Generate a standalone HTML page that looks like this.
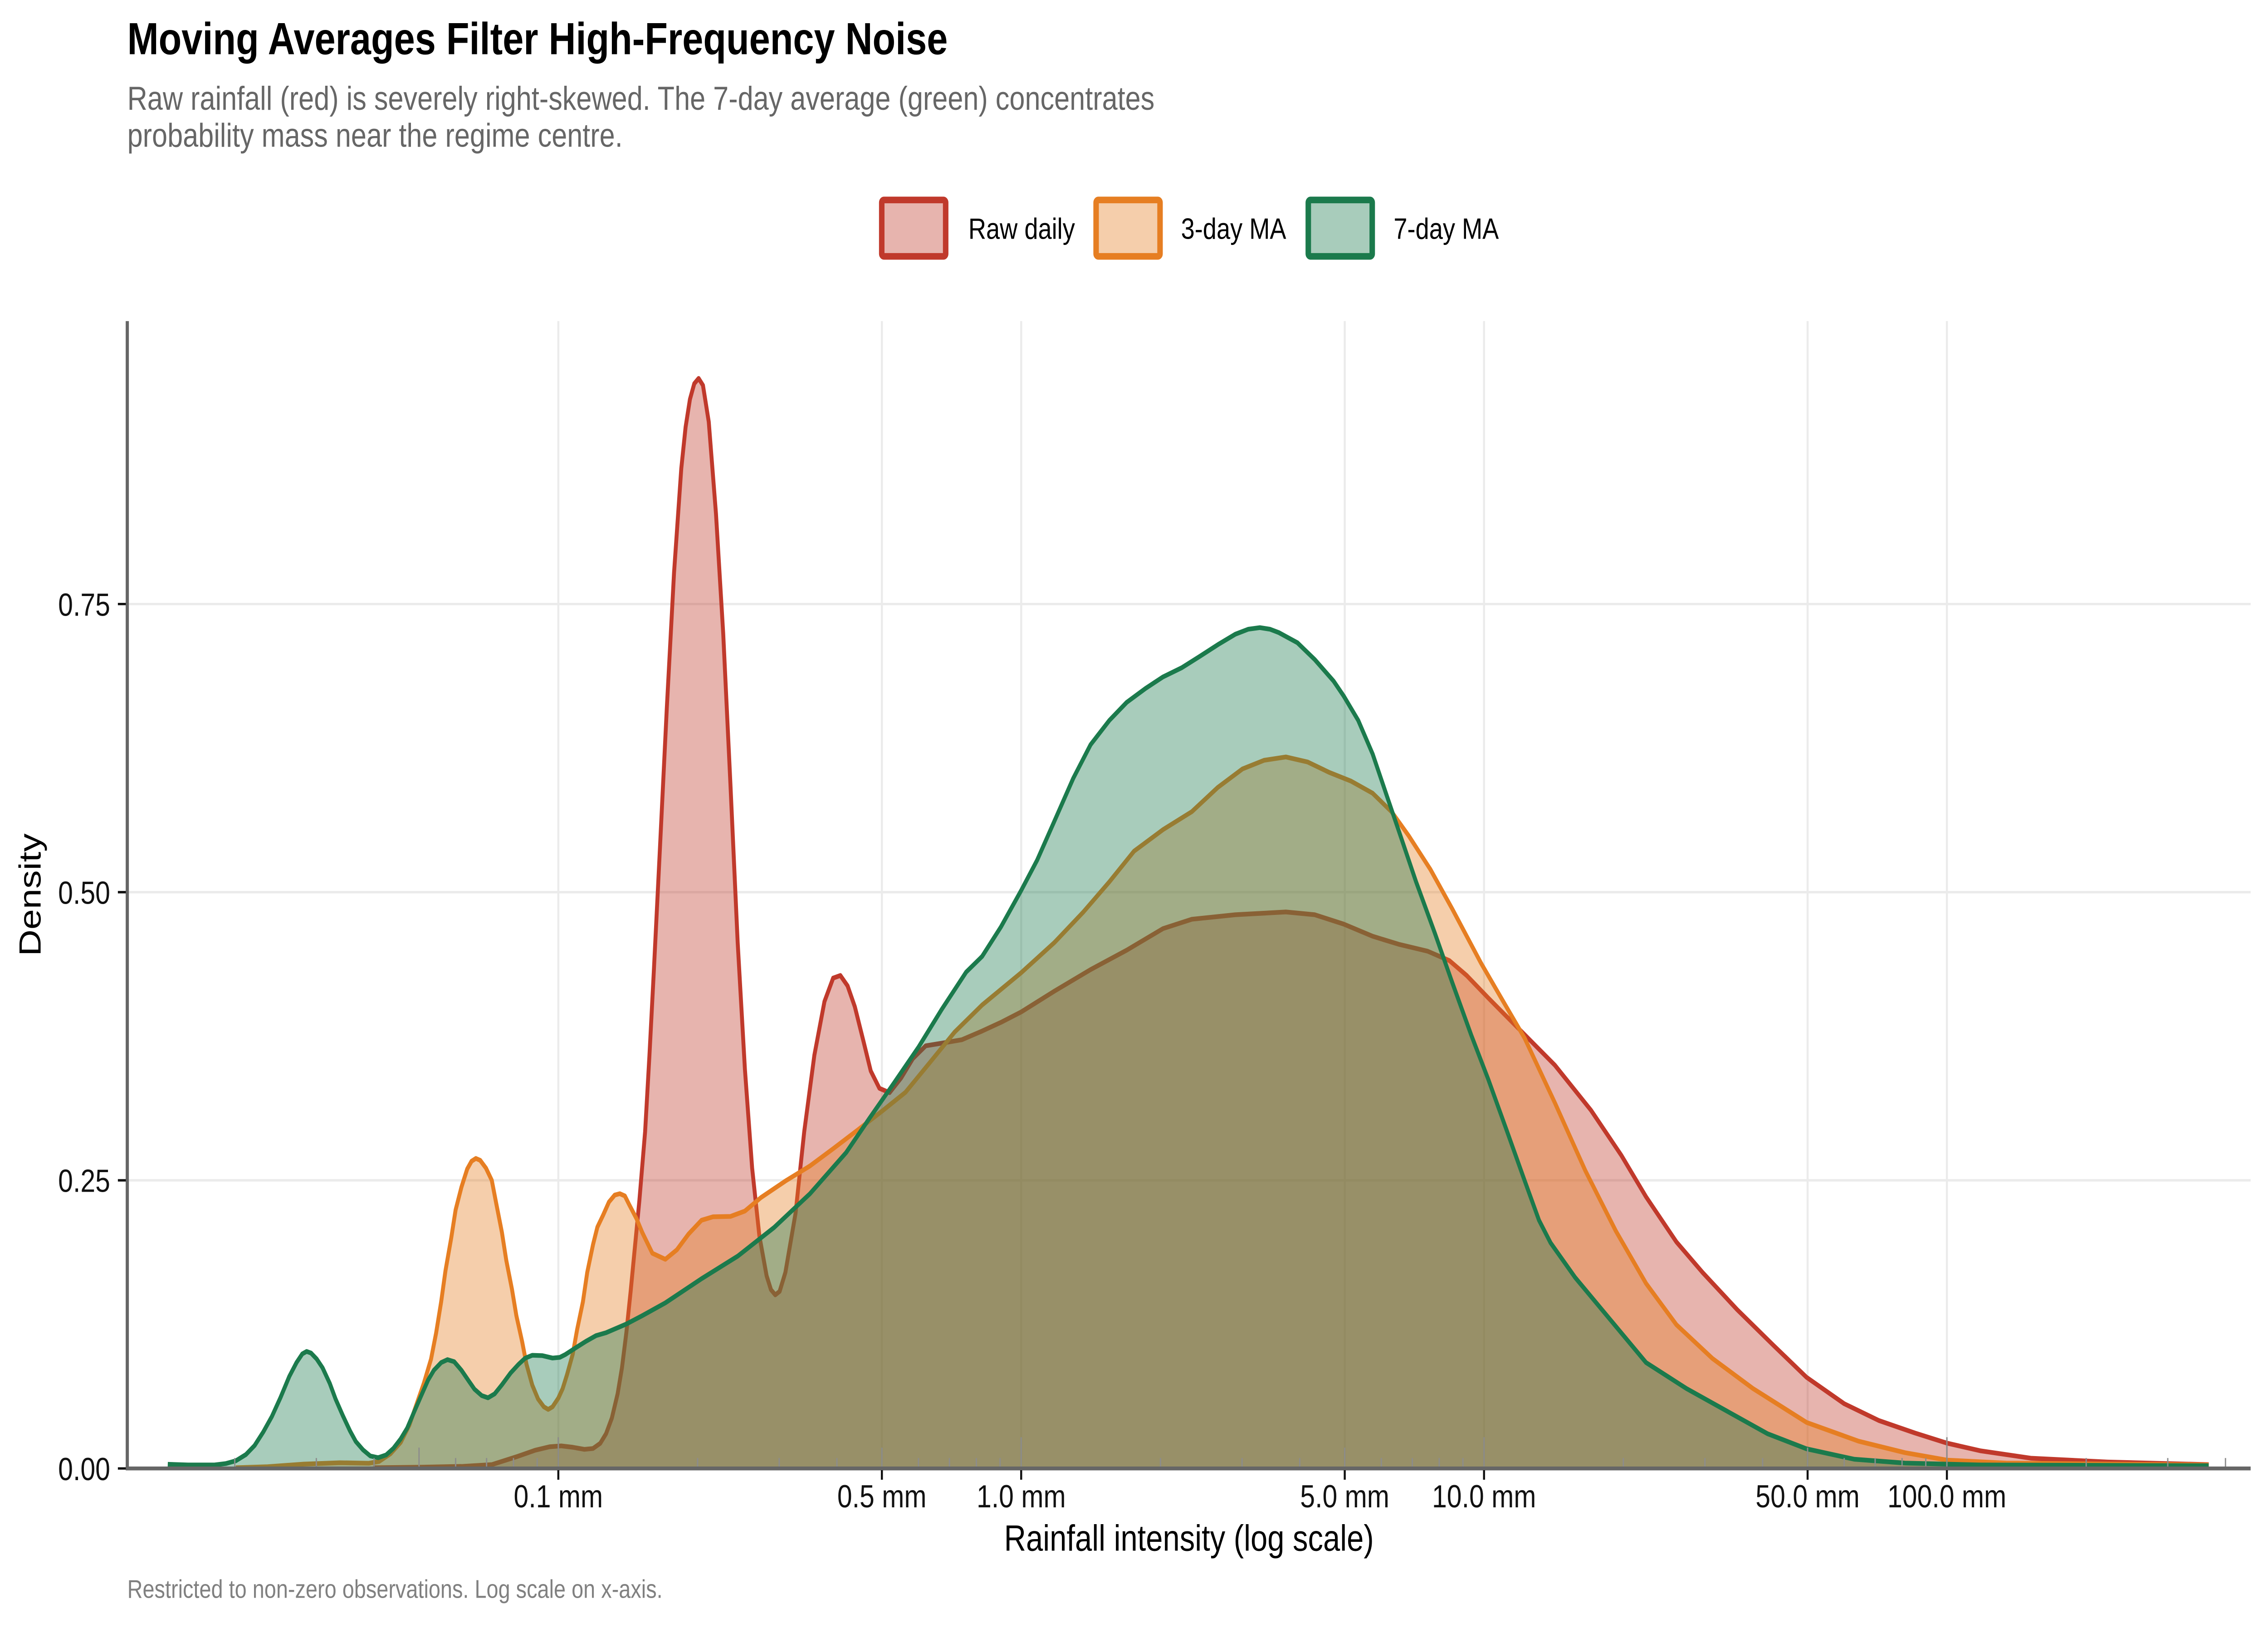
<!DOCTYPE html>
<html>
<head>
<meta charset="utf-8">
<style>
html,body{margin:0;padding:0;background:#ffffff;overflow:hidden;width:100%;height:100%;}
svg{display:block;width:100vw;height:100vh;}
</style>
</head>
<body>
<svg xmlns="http://www.w3.org/2000/svg" viewBox="0 0 1568 940.8" preserveAspectRatio="none" font-family="'Liberation Sans', Arial, sans-serif">
<rect x="0" y="0" width="1568" height="940.8" fill="#ffffff"/>

<!-- Title / subtitle -->
<text x="88" y="31.2" font-size="26" font-weight="bold" fill="#000000">Moving Averages Filter High-Frequency Noise</text>
<text x="88" y="63.2" font-size="19.2" fill="#666666">Raw rainfall (red) is severely right-skewed. The 7-day average (green) concentrates</text>
<text x="88" y="84.5" font-size="19.2" fill="#666666">probability mass near the regime centre.</text>

<!-- Legend -->
<rect x="609.6" y="115.2" width="44.2" height="32.5" rx="1.5" fill="#C0392B" fill-opacity="0.38" stroke="#C0392B" stroke-width="3.8"/>
<text x="669.5" y="137.6" font-size="17" fill="#000000">Raw daily</text>
<rect x="757.8" y="115.2" width="44.2" height="32.5" rx="1.5" fill="#E67E22" fill-opacity="0.38" stroke="#E67E22" stroke-width="3.8"/>
<text x="816.5" y="137.6" font-size="17" fill="#000000">3-day MA</text>
<rect x="904.5" y="115.2" width="44.2" height="32.5" rx="1.5" fill="#1B7A4C" fill-opacity="0.38" stroke="#1B7A4C" stroke-width="3.8"/>
<text x="963.5" y="137.6" font-size="17" fill="#000000">7-day MA</text>

<!-- Gridlines -->
<g stroke="#EBEBEB" stroke-width="1.4" fill="none">
<line x1="88" y1="680" x2="1556" y2="680"/>
<line x1="88" y1="514" x2="1556" y2="514"/>
<line x1="88" y1="348" x2="1556" y2="348"/>
<line x1="386" y1="185" x2="386" y2="846"/>
<line x1="609.7" y1="185" x2="609.7" y2="846"/>
<line x1="706" y1="185" x2="706" y2="846"/>
<line x1="929.7" y1="185" x2="929.7" y2="846"/>
<line x1="1026" y1="185" x2="1026" y2="846"/>
<line x1="1249.7" y1="185" x2="1249.7" y2="846"/>
<line x1="1346" y1="185" x2="1346" y2="846"/>
</g>

<!-- Raw daily (red) -->
<polygon fill="#C0392B" fill-opacity="0.38" stroke="none" points="258,846 258,845.6 290,845.3 320,844.8 340,843.8 358,839 370,835.5 380,833.5 388,833 396,833.8 404,835 410,834.5 415,831.5 419,826 423,817 427,803 430,788 433,768 436,744 439,718 442,692 446,652 449,608 452,560 456,493 461,408 466,330 471,270 474,246 477,230 480,221 483,218 486,222 490,243 495,296 500,365 505,452 510,543 515,616 520,673 525,712 530,735 533,743 536,746 539,744 543,733 550,699 556,652 563,608 570,577 576,563.5 581,562 586,568 591,580 597,600 602,617 608,627 615,629.5 623,621 631,610 640,602.5 651,601 665,599 679,594 692,589 706,583 729,571 754,558.6 779,547.4 804,535 824,529.6 854,527 889,525.4 909,527 929,532.4 949,539.4 967,544 987,548 1002,553.4 1014,562 1029,575 1048,591 1075,613.7 1100,639.7 1121,665.7 1138,689.5 1159,715.5 1177,733 1201,754.5 1226,775 1249,793.5 1275,808.7 1299,818.4 1324,825.6 1346,831.4 1369,835.8 1404,840.1 1457,842.3 1527,843.8 1527,846"/>
<polyline fill="none" stroke="#C0392B" stroke-width="2.7" stroke-linejoin="round" stroke-linecap="butt" points="258,845.6 290,845.3 320,844.8 340,843.8 358,839 370,835.5 380,833.5 388,833 396,833.8 404,835 410,834.5 415,831.5 419,826 423,817 427,803 430,788 433,768 436,744 439,718 442,692 446,652 449,608 452,560 456,493 461,408 466,330 471,270 474,246 477,230 480,221 483,218 486,222 490,243 495,296 500,365 505,452 510,543 515,616 520,673 525,712 530,735 533,743 536,746 539,744 543,733 550,699 556,652 563,608 570,577 576,563.5 581,562 586,568 591,580 597,600 602,617 608,627 615,629.5 623,621 631,610 640,602.5 651,601 665,599 679,594 692,589 706,583 729,571 754,558.6 779,547.4 804,535 824,529.6 854,527 889,525.4 909,527 929,532.4 949,539.4 967,544 987,548 1002,553.4 1014,562 1029,575 1048,591 1075,613.7 1100,639.7 1121,665.7 1138,689.5 1159,715.5 1177,733 1201,754.5 1226,775 1249,793.5 1275,808.7 1299,818.4 1324,825.6 1346,831.4 1369,835.8 1404,840.1 1457,842.3 1527,843.8"/>

<!-- 3-day MA (orange) -->
<polygon fill="#E67E22" fill-opacity="0.38" stroke="none" points="163,846 163,845.6 185,845 210,843.5 235,842.7 255,843 262,842 270,837.5 277,831 283,821 288,809 293,797 298,783 301.5,768 305,750 308,732 312,713 315,697 319,684 323,673.5 326,669 329,667.4 332,668.5 336,673 340,680 343,693 347,710 350,726 354,743 357,758 361,773 364,786 368,798 372,806 376,810.5 379,812 382,810.5 386,805.5 389,800 392,792 396,780 399,766 403,750 406,733 410,717 413,707 417,700 421,692.5 425,688.5 428.5,687.7 432,689 435,694 440,702 444,710 451,722 460,725.5 468,720 476,711 485,703 493,701 505,700.8 515,697.7 526,690 543,680.4 560,671.7 576,661.8 593,651 610,640 626,629.3 643,612 660,594.6 679,579 706,560.4 729,543 749,525.4 767,508 784,490.4 804,478 824,467.6 842,453.6 859,443 874,438 889,436.1 904,439 919,445 934,450 949,457 962,467.6 974,481.6 989,501 1004,523.6 1024,555 1040,578 1054,598 1075,635.4 1096,674.4 1117,709 1138,739.4 1159,763.2 1184,782.7 1212,800 1249,819.5 1285,830.3 1317,836.9 1346,841.2 1387,842.9 1527,844 1527,846"/>
<polyline fill="none" stroke="#E67E22" stroke-width="2.7" stroke-linejoin="round" stroke-linecap="butt" points="163,845.6 185,845 210,843.5 235,842.7 255,843 262,842 270,837.5 277,831 283,821 288,809 293,797 298,783 301.5,768 305,750 308,732 312,713 315,697 319,684 323,673.5 326,669 329,667.4 332,668.5 336,673 340,680 343,693 347,710 350,726 354,743 357,758 361,773 364,786 368,798 372,806 376,810.5 379,812 382,810.5 386,805.5 389,800 392,792 396,780 399,766 403,750 406,733 410,717 413,707 417,700 421,692.5 425,688.5 428.5,687.7 432,689 435,694 440,702 444,710 451,722 460,725.5 468,720 476,711 485,703 493,701 505,700.8 515,697.7 526,690 543,680.4 560,671.7 576,661.8 593,651 610,640 626,629.3 643,612 660,594.6 679,579 706,560.4 729,543 749,525.4 767,508 784,490.4 804,478 824,467.6 842,453.6 859,443 874,438 889,436.1 904,439 919,445 934,450 949,457 962,467.6 974,481.6 989,501 1004,523.6 1024,555 1040,578 1054,598 1075,635.4 1096,674.4 1117,709 1138,739.4 1159,763.2 1184,782.7 1212,800 1249,819.5 1285,830.3 1317,836.9 1346,841.2 1387,842.9 1527,844"/>

<!-- 7-day MA (green) -->
<polygon fill="#1B7A4C" fill-opacity="0.38" stroke="none" points="116,846 116,843.6 130,844 148,844 156,843.2 163,841.6 170,838 176,832.8 182,825 188,816 194,805 200,793 205,785 209,780 212,778.6 215,779.5 219,783 223,788 228,797 232,806 237,815.5 242,824.4 246,830.5 251,835.3 256,838.8 261.5,839.8 267,838.2 272,834.4 277,829 281.5,822.8 286,814 291,804.4 296,795 300,789.4 305,785 309.4,783.3 314,784.5 319,789.4 324,795.5 328,800.3 333,804 337.4,805.3 342,803 347,797.8 353,791 358.4,786.1 363,782.5 368,780.8 375,781 382,782.4 387,782 391,780.3 398,776.5 405,772.8 412,769.5 419,767.8 433,762.8 444,758 460,750.6 485,736.7 510,723.7 535,707.3 560,687.7 585,664 601,644.4 618,624 635,603.3 651,581.6 668,560 679,551 692,534 706,513 717,495.6 729,473 742,448.4 754,429 767,415 779,404.6 792,396.6 804,390 817,384.7 829,378.4 842,371.4 854,365.4 863,362.5 871,361.6 878,362.5 884,364.4 897,370.3 909,380 922,392.4 929,401 939,415 949,434.4 959,459 969,483.4 979,508 992,537.6 1004,566 1017,596 1029,622 1042,652 1054,680 1064,703 1072,716 1089,736 1114,761 1138,785 1166,800 1194,813 1222,826 1249,834.7 1282,840.7 1317,842.9 1369,844 1527,844.4 1527,846"/>
<polyline fill="none" stroke="#1B7A4C" stroke-width="2.7" stroke-linejoin="round" stroke-linecap="butt" points="116,843.6 130,844 148,844 156,843.2 163,841.6 170,838 176,832.8 182,825 188,816 194,805 200,793 205,785 209,780 212,778.6 215,779.5 219,783 223,788 228,797 232,806 237,815.5 242,824.4 246,830.5 251,835.3 256,838.8 261.5,839.8 267,838.2 272,834.4 277,829 281.5,822.8 286,814 291,804.4 296,795 300,789.4 305,785 309.4,783.3 314,784.5 319,789.4 324,795.5 328,800.3 333,804 337.4,805.3 342,803 347,797.8 353,791 358.4,786.1 363,782.5 368,780.8 375,781 382,782.4 387,782 391,780.3 398,776.5 405,772.8 412,769.5 419,767.8 433,762.8 444,758 460,750.6 485,736.7 510,723.7 535,707.3 560,687.7 585,664 601,644.4 618,624 635,603.3 651,581.6 668,560 679,551 692,534 706,513 717,495.6 729,473 742,448.4 754,429 767,415 779,404.6 792,396.6 804,390 817,384.7 829,378.4 842,371.4 854,365.4 863,362.5 871,361.6 878,362.5 884,364.4 897,370.3 909,380 922,392.4 929,401 939,415 949,434.4 959,459 969,483.4 979,508 992,537.6 1004,566 1017,596 1029,622 1042,652 1054,680 1064,703 1072,716 1089,736 1114,761 1138,785 1166,800 1194,813 1222,826 1249,834.7 1282,840.7 1317,842.9 1369,844 1527,844.4"/>

<!-- Log ticks -->
<g stroke="#8c8c8c" stroke-width="0.9">
<line x1="162.3" y1="846" x2="162.3" y2="840"/>
<line x1="218.7" y1="846" x2="218.7" y2="840"/>
<line x1="258.6" y1="846" x2="258.6" y2="840"/>
<line x1="289.7" y1="846" x2="289.7" y2="834"/>
<line x1="315.0" y1="846" x2="315.0" y2="840"/>
<line x1="336.4" y1="846" x2="336.4" y2="840"/>
<line x1="355.0" y1="846" x2="355.0" y2="840"/>
<line x1="371.4" y1="846" x2="371.4" y2="840"/>
<line x1="386" y1="846" x2="386" y2="828"/>
<line x1="482.3" y1="846" x2="482.3" y2="840"/>
<line x1="538.7" y1="846" x2="538.7" y2="840"/>
<line x1="578.6" y1="846" x2="578.6" y2="840"/>
<line x1="609.7" y1="846" x2="609.7" y2="834"/>
<line x1="635.0" y1="846" x2="635.0" y2="840"/>
<line x1="656.4" y1="846" x2="656.4" y2="840"/>
<line x1="675.0" y1="846" x2="675.0" y2="840"/>
<line x1="691.4" y1="846" x2="691.4" y2="840"/>
<line x1="706" y1="846" x2="706" y2="828"/>
<line x1="802.3" y1="846" x2="802.3" y2="840"/>
<line x1="858.7" y1="846" x2="858.7" y2="840"/>
<line x1="898.6" y1="846" x2="898.6" y2="840"/>
<line x1="929.7" y1="846" x2="929.7" y2="834"/>
<line x1="955.0" y1="846" x2="955.0" y2="840"/>
<line x1="976.4" y1="846" x2="976.4" y2="840"/>
<line x1="995.0" y1="846" x2="995.0" y2="840"/>
<line x1="1011.4" y1="846" x2="1011.4" y2="840"/>
<line x1="1026" y1="846" x2="1026" y2="828"/>
<line x1="1122.3" y1="846" x2="1122.3" y2="840"/>
<line x1="1178.7" y1="846" x2="1178.7" y2="840"/>
<line x1="1218.6" y1="846" x2="1218.6" y2="840"/>
<line x1="1249.7" y1="846" x2="1249.7" y2="834"/>
<line x1="1275.0" y1="846" x2="1275.0" y2="840"/>
<line x1="1296.4" y1="846" x2="1296.4" y2="840"/>
<line x1="1315.0" y1="846" x2="1315.0" y2="840"/>
<line x1="1331.4" y1="846" x2="1331.4" y2="840"/>
<line x1="1346" y1="846" x2="1346" y2="828"/>
<line x1="1442.3" y1="846" x2="1442.3" y2="840"/>
<line x1="1498.7" y1="846" x2="1498.7" y2="840"/>
<line x1="1538.6" y1="846" x2="1538.6" y2="840"/>
</g>

<!-- Axis lines -->
<line x1="88" y1="185" x2="88" y2="847" stroke="#666666" stroke-width="2.2"/>
<line x1="87" y1="846" x2="1556" y2="846" stroke="#666666" stroke-width="2.2"/>

<!-- Major ticks -->
<g stroke="#111111" stroke-width="1.4">
<line x1="81.5" y1="846" x2="87" y2="846"/>
<line x1="81.5" y1="680" x2="87" y2="680"/>
<line x1="81.5" y1="514" x2="87" y2="514"/>
<line x1="81.5" y1="348" x2="87" y2="348"/>
<line x1="386" y1="847" x2="386" y2="852.5"/>
<line x1="609.7" y1="847" x2="609.7" y2="852.5"/>
<line x1="706" y1="847" x2="706" y2="852.5"/>
<line x1="929.7" y1="847" x2="929.7" y2="852.5"/>
<line x1="1026" y1="847" x2="1026" y2="852.5"/>
<line x1="1249.7" y1="847" x2="1249.7" y2="852.5"/>
<line x1="1346" y1="847" x2="1346" y2="852.5"/>
</g>

<!-- Y tick labels -->
<g font-size="18.5" fill="#111111" text-anchor="end">
<text x="76.2" y="852.7">0.00</text>
<text x="76.2" y="686.7">0.25</text>
<text x="76.2" y="520.7">0.50</text>
<text x="76.2" y="354.7">0.75</text>
</g>

<!-- X tick labels -->
<g font-size="18.5" fill="#111111" text-anchor="middle">
<text x="386" y="868.4">0.1 mm</text>
<text x="609.7" y="868.4">0.5 mm</text>
<text x="706" y="868.4">1.0 mm</text>
<text x="929.7" y="868.4">5.0 mm</text>
<text x="1026" y="868.4">10.0 mm</text>
<text x="1249.7" y="868.4">50.0 mm</text>
<text x="1346" y="868.4">100.0 mm</text>
</g>

<!-- Axis titles -->
<text x="822" y="893.4" font-size="21" fill="#000000" text-anchor="middle">Rainfall intensity (log scale)</text>
<text transform="translate(28,515.5) rotate(-90)" font-size="21.2" fill="#000000" text-anchor="middle">Density</text>

<!-- Caption -->
<text x="88" y="920.5" font-size="14.7" fill="#808080">Restricted to non-zero observations. Log scale on x-axis.</text>
</svg>
</body>
</html>
